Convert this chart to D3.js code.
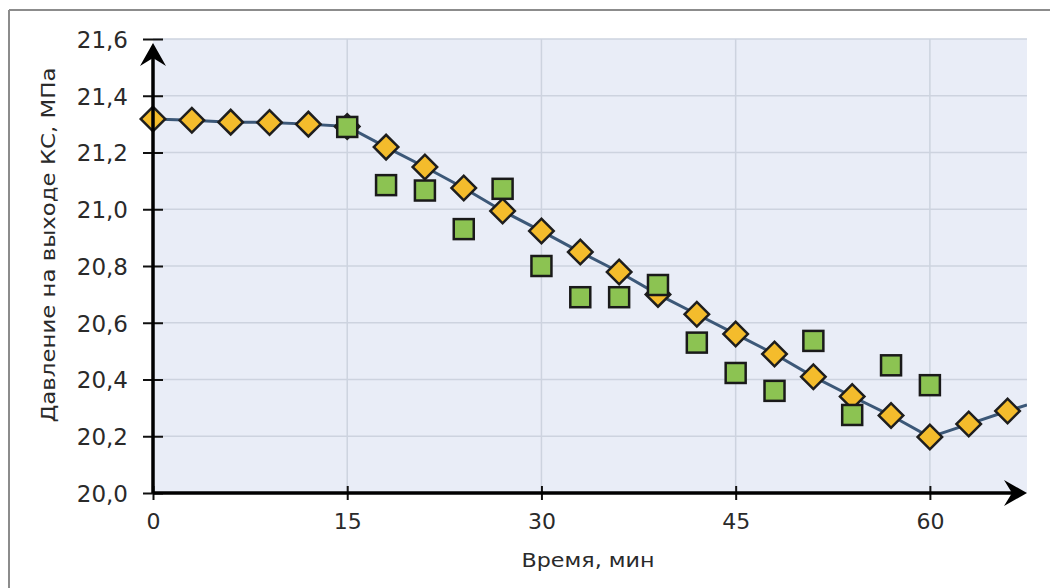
<!DOCTYPE html>
<html><head><meta charset="utf-8">
<script src="https://cdn.jsdelivr.net/npm/d3@7/dist/d3.min.js"></script>
<style>html,body{margin:0;padding:0;background:#fff;}svg{display:block;}</style>
</head><body>
<svg id="c" width="1050" height="588"></svg>
<script>
// ---- data ----
const calcTimes = [0,3,6,9,12,15,18,21,24,27,30,33,36,39,42,45,48,51,54,57,60,63,66];
const calcValues = [21.318,21.314,21.307,21.306,21.300,21.292,21.219,21.149,21.075,20.994,20.923,20.849,20.779,20.700,20.630,20.560,20.490,20.410,20.340,20.273,20.197,20.243,20.289];
// line continues past the last marker to the plot edge
const lineTailTime = [67.5];
const lineTailValue = [20.31];
const measTimes = [15,18,21,24,27,30,33,36,39,42,45,48,51,54,57,60];
const measValues = [21.290,21.085,21.066,20.930,21.072,20.800,20.690,20.690,20.733,20.530,20.423,20.360,20.536,20.275,20.450,20.380];
const xTicks = [0,15,30,45,60];
const yTicks = [20.0,20.2,20.4,20.6,20.8,21.0,21.2,21.4,21.6];
const xTitle = "Время, мин";
const yTitle = "Давление на выходе КС, МПа";

// ---- layout ----
const L = 153, R = 1027, T = 39, B = 493;
const svg = d3.select("#c");
const x = d3.scaleLinear().domain([0, 67.5]).range([L, R]);
const y = d3.scaleLinear().domain([20.0, 21.6]).range([B, T]);

// frame (top and left edge of the picture border)
svg.append("line").attr("x1",9).attr("x2",1050).attr("y1",10).attr("y2",10).attr("stroke","#8c8c8c").attr("stroke-width",2);
svg.append("line").attr("x1",9).attr("x2",9).attr("y1",10).attr("y2",588).attr("stroke","#8c8c8c").attr("stroke-width",2);

// plot background
svg.append("rect").attr("x",L).attr("y",T).attr("width",R-L).attr("height",B-T).attr("fill","#e9edf7");

// grid
svg.append("g").selectAll("line").data(yTicks.slice(1)).join("line")
  .attr("x1",L).attr("x2",R).attr("y1",d=>y(d)).attr("y2",d=>y(d))
  .attr("stroke","#cdd3df").attr("stroke-width",1.5);
svg.append("g").selectAll("line").data(xTicks.slice(1)).join("line")
  .attr("y1",T).attr("y2",B).attr("x1",d=>x(d)).attr("x2",d=>x(d))
  .attr("stroke","#cdd3df").attr("stroke-width",1.5);

svg.append("clipPath").attr("id","pc").append("rect").attr("x",L).attr("y",T).attr("width",R-L).attr("height",B-T);

// line
const linePts = calcTimes.map((t,i)=>[t,calcValues[i]]).concat(lineTailTime.map((t,i)=>[t,lineTailValue[i]]));
svg.append("path").datum(linePts).attr("clip-path","url(#pc)")
  .attr("d", d3.line().x(d=>x(d[0])).y(d=>y(d[1])))
  .attr("fill","none").attr("stroke","#3c5878").attr("stroke-width",3);

// diamonds
const dia = d3.symbol().type(d3.symbolSquare).size(300);
svg.append("g").selectAll("path").data(calcTimes.map((t,i)=>[t,calcValues[i]])).join("path")
  .attr("d", dia)
  .attr("transform", d=>`translate(${x(d[0])},${y(d[1])}) rotate(45)`)
  .attr("fill","#f4bc2c").attr("stroke","#1e1e1e").attr("stroke-width",2.5);

// squares
svg.append("g").selectAll("rect").data(measTimes.map((t,i)=>[t,measValues[i]])).join("rect")
  .attr("x", d=>x(d[0])-10).attr("y", d=>y(d[1])-10).attr("width",20).attr("height",20)
  .attr("fill","#8cc352").attr("stroke","#1a1a1a").attr("stroke-width",2.5);

// axes
const font = "DejaVu Sans, sans-serif";
const ay = svg.append("g").attr("transform",`translate(${L},0)`)
  .call(d3.axisLeft(y).tickValues(yTicks).tickSize(10).tickFormat(d=>d3.format(".1f")(d).replace(".",",")));
ay.select(".domain").remove();
ay.selectAll(".tick line").attr("x2",10).attr("x1",-10).attr("stroke","#111").attr("stroke-width",2);
ay.selectAll(".tick text").attr("x",-25).attr("dy","0.36em").attr("font-family",font).attr("font-size",23).attr("fill","#2a2a2a");

const ax = svg.append("g").attr("transform",`translate(0,${B})`)
  .call(d3.axisBottom(x).tickValues(xTicks).tickSize(7).tickFormat(d3.format("d")));
ax.select(".domain").remove();
ax.selectAll(".tick line").attr("y1",-7).attr("y2",7).attr("stroke","#111").attr("stroke-width",2);
ax.selectAll(".tick text").attr("y",36).attr("dy","0").attr("font-family",font).attr("font-size",22).attr("fill","#2a2a2a");

// axis lines with arrows
svg.append("line").attr("x1",L).attr("x2",R-4).attr("y1",B).attr("y2",B).attr("stroke","#000").attr("stroke-width",3.5);
svg.append("line").attr("x1",L).attr("x2",L).attr("y1",B).attr("y2",T+8).attr("stroke","#000").attr("stroke-width",3.5);
const tipY = T + 4;
svg.append("path").attr("d",`M${L},${tipY} L${L-13},${tipY+23} L${L},${tipY+15} L${L+13},${tipY+23} Z`).attr("fill","#000");
svg.append("path").attr("d",`M${R},${B} L${R-23},${B-13} L${R-15},${B} L${R-23},${B+13} Z`).attr("fill","#000");

// titles
svg.append("text").attr("x",588).attr("y",567).attr("text-anchor","middle")
  .attr("font-family",font).attr("font-size",19).attr("fill","#2a2a2a")
  .attr("textLength",133).attr("lengthAdjust","spacingAndGlyphs").text(xTitle);
svg.append("text").attr("transform","translate(55,245) rotate(-90)").attr("text-anchor","middle")
  .attr("font-family",font).attr("font-size",19).attr("fill","#2a2a2a")
  .attr("textLength",355).attr("lengthAdjust","spacingAndGlyphs").text(yTitle);
</script>
</body></html>
